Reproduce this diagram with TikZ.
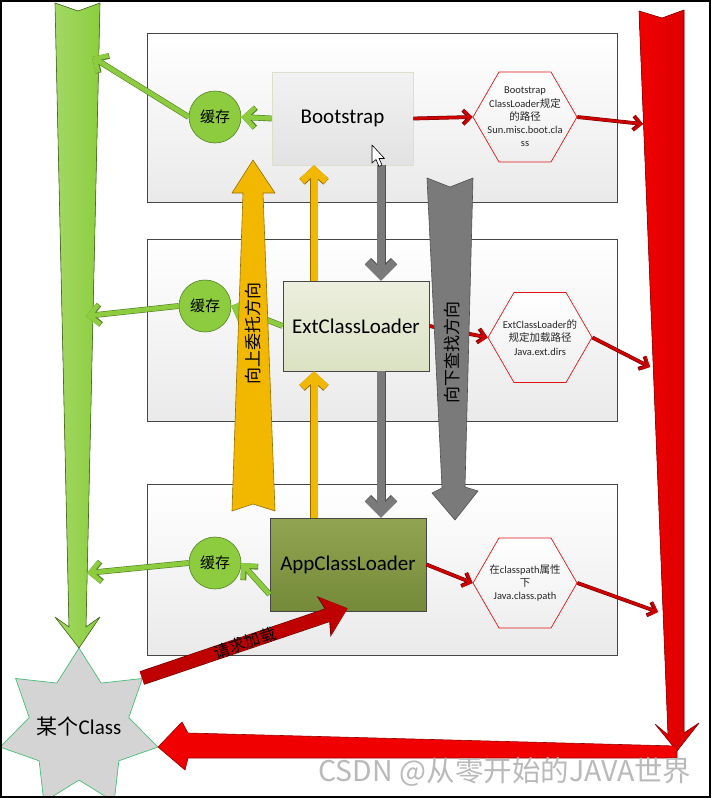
\documentclass[tikz,border=0pt]{standalone}
\usepackage{fontspec}
\setmainfont{Carlito}
\newfontfamily\cjkfont{Noto Sans CJK SC}
\usetikzlibrary{shapes.geometric, arrows.meta, positioning, calc}

\definecolor{panelline}{RGB}{70,70,70}
\definecolor{panelgray}{RGB}{234,234,234}
\definecolor{bootfill}{RGB}{242,242,242}
\definecolor{bootshade}{RGB}{226,226,226}
\definecolor{bootline}{RGB}{222,222,205}
\definecolor{extfill}{RGB}{236,239,222}
\definecolor{extshade}{RGB}{219,226,195}
\definecolor{appfill}{RGB}{146,164,80}
\definecolor{appshade}{RGB}{116,138,58}
\definecolor{cachefill}{RGB}{140,204,62}
\definecolor{cacheedge}{RGB}{82,130,36}
\definecolor{hexline}{RGB}{225,20,20}
\definecolor{hexgray}{RGB}{238,238,238}
\definecolor{pathred}{RGB}{204,0,0}
\definecolor{pathedge}{RGB}{110,0,0}
\definecolor{greenbig}{RGB}{140,206,62}
\definecolor{greenedge}{RGB}{70,110,30}
\definecolor{redbig}{RGB}{240,0,0}
\definecolor{rededge}{RGB}{150,0,0}
\definecolor{upfill}{RGB}{242,184,0}
\definecolor{upedge}{RGB}{150,110,0}
\definecolor{downfill}{RGB}{122,122,122}
\definecolor{downedge}{RGB}{80,80,80}
\definecolor{loadfill}{RGB}{190,0,0}
\definecolor{loadedge}{RGB}{100,0,0}
\definecolor{classfill}{RGB}{212,212,212}
\definecolor{classedge}{RGB}{70,190,120}
\definecolor{markgray}{RGB}{185,185,185}

\tikzset{
  layer/.style={draw=panelline, line width=0.8pt, top color=white, bottom color=panelgray},
  loader/.style={minimum height=93pt, inner sep=0pt, font=\fontsize{21}{25}\selectfont},
  cache/.style={circle, draw=cacheedge, fill=cachefill, line width=0.6pt,
    minimum size=52pt, inner sep=0pt, font=\cjkfont\fontsize{15}{18}\selectfont},
  pathhex/.style={regular polygon, regular polygon sides=6, minimum size=104pt,
    inner sep=0pt, draw=hexline, line width=0.7pt, top color=white, bottom color=hexgray},
  hextext/.style={align=center, text=black!85, font=\fontsize{10.5}{13.3}\selectfont},
  bigarrow/.style={line width=0.6pt, line join=round},
  classstar/.style={fill=classfill, draw=classedge, line width=0.7pt},
  cachearrow/.style={draw=cachefill, line width=4.6pt, -{Straight Barb[length=10pt,width=20pt]},
    preaction={draw=cacheedge, line width=5.8pt, -{Straight Barb[length=10pt,width=20pt]}}},
  patharrow/.style={draw=pathred, line width=2.8pt, -{Straight Barb[length=7pt,width=14pt]},
    preaction={draw=pathedge, line width=3.8pt, -{Straight Barb[length=7pt,width=14pt]}}},
  uparrow/.style={draw=upfill, line width=7pt, -{Straight Barb[length=11pt,width=24pt]},
    preaction={draw=upedge, line width=8pt, -{Straight Barb[length=11pt,width=24pt]}}},
  downarrow/.style={draw=downfill, line width=8pt, -{Straight Barb[length=13pt,width=26pt]},
    preaction={draw=downedge, line width=9pt, -{Straight Barb[length=13pt,width=26pt]}}},
  loadarrow/.style={draw=loadfill, line width=13pt, -{Stealth[length=24pt,width=40pt,inset=5pt]},
    preaction={draw=loadedge, line width=14.2pt, -{Stealth[length=25pt,width=42pt,inset=5pt]}}},
  vlabel/.style={rotate=90, font=\cjkfont\fontsize{17}{20}\selectfont}
}

\begin{document}
\begin{tikzpicture}[x=1pt,y=-1pt]
\useasboundingbox (0,0) rectangle (712,798);
\clip (0,0) rectangle (712,798);

% Layers
\draw[layer] (147,33) rectangle (617,202);
\draw[layer] (147,239) rectangle (617,421);
\draw[layer] (147,484) rectangle (617,655);

% The class to load, a seven point star
\filldraw[classstar] (79,648)
    \foreach \k in {1,...,13} { -- ($(79,729)+({-90+\k*180/7}:{81-30*mod(\k,2)})$) } -- cycle;
\node[font=\fontsize{21}{25}\selectfont] (cls) at (79,727) {{\cjkfont 某个}Class};
\coordinate (clsTop) at (79,648);
\coordinate (clsRight) at (158,747);
\coordinate (clsUp) at (142,678);

% Green column to the class
\filldraw[bigarrow, draw=greenedge, left color=greenbig!80!white, right color=greenbig]
    (55,3) -- (78,11) -- (100,3) -- (86,627) -- (100,617) -- (clsTop)
    -- (55,617) -- (69,627) -- cycle;

% Red column and the way back to the class
\filldraw[bigarrow, draw=rededge, left color=redbig, right color=redbig!90!black]
    (639,11) -- (662,18) -- (684,10) -- (684,733) -- (699,723) -- (677,751)
    -- (655,724) -- (668,735) -- cycle;
\filldraw[bigarrow, draw=rededge, fill=redbig]
    (677,746) -- (188,733) -- (182,722) -- (clsRight) -- (185,770)
    -- (188,758) -- (677,758) -- cycle;

% Loaders
\node[loader,
    top color=bootfill, bottom color=bootshade,
    draw=bootline, line width=0.6pt,
    minimum width=141pt] (boot) at (342.5,118.5) {Bootstrap};

\node[loader,
    top color=extfill, bottom color=extshade,
    draw=panelline, line width=0.8pt,
    minimum width=146pt, minimum height=90pt] (ext) at (356,326) {ExtClassLoader};

\node[loader,
    top color=appfill, bottom color=appshade,
    draw=panelline, line width=0.8pt,
    minimum width=156pt] (app) at (348,564.5) {AppClassLoader};

% Caches
\node[cache] (cache1) at (215,117) {缓存};
\node[cache] (cache2) at (205,306) {缓存};
\node[cache] (cache3) at (215,563) {缓存};

% Load paths
\node[pathhex, label={[hextext]center:Bootstrap\\ClassLoader{\cjkfont 规定}\\{\cjkfont 的路径}\\Sun.misc.boot.cla\\ss}]
    (hex1) at (525,117) {};
\node[pathhex, label={[hextext]center:ExtClassLoader{\cjkfont 的}\\{\cjkfont 规定加载路径}\\Java.ext.dirs}]
    (hex2) at (540,337.5) {};
\node[pathhex, label={[hextext]center:{\cjkfont 在}classpath{\cjkfont 属性}\\{\cjkfont 下}\\Java.class.path}]
    (hex3) at (525,583) {};

% Cache arrows
\coordinate (g1) at (92,57);
\coordinate (g2) at (86,316);
\coordinate (g3) at (87,573);
\draw[cachearrow] (boot.west) -- (cache1.east);
\draw[cachearrow] (cache1.west) -- (g1);
\draw[cachearrow] (ext.west) -- (cache2.east);
\draw[cachearrow] (cache2.west) -- (g2);
\draw[cachearrow] ([yshift=-30pt]app.west) -- (cache3.east);
\draw[cachearrow] (cache3.west) -- (g3);

% Path arrows
\coordinate (r1) at (643,124);
\coordinate (r2) at (650,367);
\coordinate (r3) at (658,612);
\draw[patharrow] (boot.east) -- (hex1.west);
\draw[patharrow] (hex1.east) -- (r1);
\draw[patharrow] (ext.east) -- (hex2.west);
\draw[patharrow] (hex2.east) -- (r2);
\draw[patharrow] (app.east) -- (hex3.west);
\draw[patharrow] (hex3.east) -- (r3);

% Delegation up, search down
\draw[uparrow] ([xshift=-42pt]ext.north) -- ([xshift=-42pt]ext.north |- boot.south);
\draw[uparrow] ([xshift=-42pt]ext.south |- app.north) -- ([xshift=-42pt]ext.south);
\draw[downarrow] ([xshift=25pt]ext.north |- boot.south) -- ([xshift=25pt]ext.north);
\draw[downarrow] ([xshift=25pt]ext.south) -- ([xshift=25pt]ext.south |- app.north);

\filldraw[bigarrow, draw=upedge, fill=upfill]
    (232,511) -- (253,504) -- (275,511) -- (263,193) -- (275,193) -- (253,160)
    -- (232,193) -- (243,193) -- cycle;
\node[vlabel] (upLabel) at (253,333) {向上委托方向};

\filldraw[bigarrow, draw=downedge, fill=downfill]
    (427,178) -- (450,187) -- (473,178) -- (465,487) -- (478,491) -- (455,520)
    -- (432,493) -- (442,488) -- cycle;
\node[vlabel] (downLabel) at (452,352) {向下查找方向};

% Load request
\draw[loadarrow] (clsUp) -- ([xshift=78pt,yshift=3pt]app.south west);
\node[rotate=18.9, font=\cjkfont\fontsize{16}{19}\selectfont] (loadLabel) at (245,643) {请求加载};

% Pointer
\filldraw[fill=white, draw=black, line width=0.6pt, line join=round]
    (372,145) -- (372,163) -- (376,159.5) -- (379,166.5) -- (382,165) -- (379,158.5)
    -- (384.5,158.5) -- cycle;

% Mark
\node[text=markgray, font=\cjkfont\fontsize{28.5}{31}\selectfont] (mark) at (505,772) {CSDN @从零开始的JAVA世界};

% Frame
\draw[black, line width=2pt] (1,1) rectangle (710,797);
\end{tikzpicture}
\end{document}
